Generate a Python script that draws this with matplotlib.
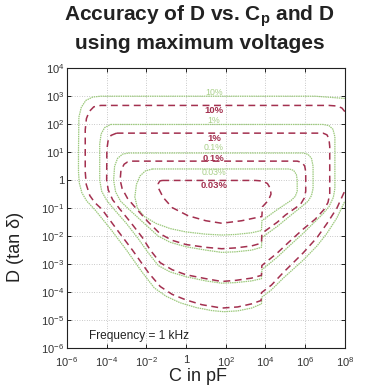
import numpy as np
import matplotlib
matplotlib.use("Agg")
import matplotlib.pyplot as plt
from matplotlib.ticker import FixedLocator, FuncFormatter, NullLocator

plt.rcParams['font.family'] = ['Liberation Sans', 'DejaVu Sans']
plt.rcParams['mathtext.fontset'] = 'custom'
plt.rcParams['mathtext.rm'] = 'Liberation Sans'
plt.rcParams['mathtext.bf'] = 'Liberation Sans:bold'

# contour traces, (log10 C [pF], log10 D)
g_10 = [(8.0, 2.92), (6.5, 3.0), (-4.3, 3.0), (-4.7, 2.97), (-5.05, 2.85), (-5.28, 2.6),
        (-5.4, 2.25), (-5.42, 1.0), (-5.42, 0.3), (-5.38, -0.1), (-5.25, -0.45), (-5.0, -0.75),
        (-4.6, -1.05), (-3.8, -1.75), (-3.0, -2.5), (-2.2, -3.3), (-1.6, -3.85), (-1.0, -4.15),
        (-0.3, -4.38), (0.5, -4.55), (1.3, -4.66), (1.9, -4.7), (2.6, -4.67), (3.3, -4.57),
        (3.8, -4.42), (3.82, -4.18), (4.3, -3.92), (4.9, -3.5), (5.9, -2.86), (6.6, -2.35),
        (7.1, -1.9), (7.6, -1.35), (8.0, -0.75)]
m_10 = [(8.0, 2.45), (7.85, 2.58), (7.6, 2.65), (7.2, 2.67), (-4.3, 2.67), (-4.65, 2.62),
        (-4.88, 2.45), (-5.02, 2.2), (-5.08, 1.8), (-5.08, 0.3), (-5.03, -0.15), (-4.85, -0.55),
        (-4.6, -0.8), (-4.24, -1.04), (-3.5, -1.75), (-2.7, -2.5), (-1.9, -3.3), (-1.3, -3.8),
        (-0.7, -4.08), (0.0, -4.28), (0.8, -4.45), (1.8, -4.57), (2.6, -4.53), (3.3, -4.42),
        (3.78, -4.3), (3.8, -4.02), (4.3, -3.75), (4.9, -3.3), (5.9, -2.6), (6.6, -2.05),
        (7.1, -1.55), (7.6, -1.0), (8.0, -0.38)]
g_1 = [(-3.8, 1.99), (6.9, 1.99), (7.2, 1.95), (7.4, 1.82), (7.5, 1.55), (7.5, -0.3),
       (7.42, -0.62), (7.2, -0.95), (6.9, -1.2), (5.9, -1.9), (5.2, -2.35), (4.6, -2.75),
       (3.82, -3.2), (3.8, -3.52), (3.3, -3.6), (2.5, -3.66), (1.8, -3.68), (1.0, -3.6),
       (0.0, -3.45), (-0.8, -3.28), (-1.4, -3.05), (-1.9, -2.6), (-2.4, -2.1), (-3.0, -1.55),
       (-3.63, -1.04), (-4.0, -0.72), (-4.25, -0.4), (-4.35, 0.0), (-4.35, 1.3), (-4.28, 1.65),
       (-4.1, 1.88), (-3.8, 1.99)]
m_1 = [(-3.5, 1.68), (6.9, 1.68), (7.1, 1.62), (7.2, 1.48), (7.24, 1.2), (7.24, -0.5),
       (7.15, -0.8), (6.95, -1.05), (6.5, -1.4), (5.9, -1.75), (5.2, -2.2), (4.6, -2.6),
       (3.82, -3.05), (3.8, -3.4), (3.3, -3.5), (2.5, -3.58), (1.8, -3.62), (1.0, -3.52),
       (0.0, -3.38), (-0.7, -3.2), (-1.3, -2.95), (-1.8, -2.5), (-2.2, -2.05), (-2.8, -1.5),
       (-3.33, -1.04), (-3.7, -0.7), (-3.92, -0.35), (-4.0, 0.0), (-3.99, 1.1), (-3.93, 1.4),
       (-3.78, 1.6), (-3.5, 1.68)]
g_01 = [(-2.9, 0.97), (5.9, 0.97), (6.15, 0.92), (6.32, 0.78), (6.4, 0.5), (6.4, -0.3),
        (6.32, -0.55), (6.15, -0.75), (5.9, -0.9), (5.2, -1.3), (4.6, -1.65), (3.82, -2.05),
        (3.8, -2.4), (3.3, -2.5), (2.5, -2.56), (1.8, -2.58), (1.0, -2.5), (0.0, -2.38),
        (-0.8, -2.22), (-1.4, -2.0), (-2.1, -1.55), (-2.88, -1.04), (-3.3, -0.75),
        (-3.55, -0.42), (-3.65, 0.0), (-3.6, 0.5), (-3.45, 0.78), (-3.2, 0.93), (-2.9, 0.97)]
m_01 = [(-2.7, 0.68), (5.6, 0.68), (5.85, 0.63), (5.98, 0.5), (6.03, 0.3), (6.03, -0.4),
        (5.95, -0.65), (5.78, -0.85), (5.5, -1.0), (5.0, -1.25), (4.6, -1.5), (3.82, -1.9),
        (3.8, -2.25), (3.3, -2.35), (2.5, -2.42), (1.8, -2.45), (1.0, -2.4), (0.0, -2.3),
        (-0.7, -2.15), (-1.3, -1.92), (-1.9, -1.5), (-2.48, -1.04), (-2.95, -0.65),
        (-3.22, -0.3), (-3.32, 0.0), (-3.28, 0.35), (-3.12, 0.57), (-2.95, 0.65), (-2.7, 0.68)]
g_003 = [(-1.7, 0.40), (5.2, 0.40), (5.42, 0.35), (5.56, 0.2), (5.6, 0.0), (5.6, -0.4),
         (5.5, -0.58), (5.3, -0.72), (4.6, -1.05), (3.82, -1.45), (3.8, -1.8), (3.3, -1.88),
         (2.5, -1.94), (1.8, -1.96), (1.0, -1.93), (0.0, -1.85), (-0.8, -1.73), (-1.5, -1.55),
         (-2.1, -1.3), (-2.45, -1.0), (-2.58, -0.6), (-2.5, -0.15), (-2.32, 0.15),
         (-2.05, 0.33), (-1.7, 0.40)]
m_003 = [(-1.2, -0.01), (3.5, -0.01), (3.85, -0.03), (4.1, -0.12), (4.25, -0.3), (4.28, -0.5),
         (4.15, -0.72), (3.85, -0.95), (3.82, -1.3), (3.6, -1.33), (2.8, -1.45), (1.8, -1.54),
         (1.0, -1.45), (0.1, -1.27), (-0.7, -0.98), (-1.15, -0.62), (-1.38, -0.3),
         (-1.4, -0.12), (-1.32, -0.03), (-1.2, -0.01)]

green_curves = [g_10, g_1, g_01, g_003]
maroon_curves = [m_10, m_1, m_01, m_003]

# contour labels: text, log10 C, log10 D
green_labels = [("10%", 1.4, 3.14), ("1%", 1.4, 2.14), ("0.1%", 1.4, 1.18), ("0.03%", 1.4, 0.29)]
maroon_labels = [("10%", 1.4, 2.5), ("1%", 1.4, 1.5), ("0.1%", 1.4, 0.79), ("0.03%", 1.4, -0.18)]

x_decades = [-6, -4, -2, 0, 2, 4, 6, 8]
y_decades = [-6, -5, -4, -3, -2, -1, 0, 1, 2, 3, 4]

GREEN = '#9cc97c'
MAROON = '#a3304f'


def pow_label(v, pos):
    e = int(round(np.log10(v)))
    if e == 0:
        return '1'
    return r'$\mathregular{10^{%d}}$' % e


fig = plt.figure(figsize=(3.68, 3.92), dpi=100)
ax = fig.add_axes([0.182, 0.112, 0.755, 0.714])

for c in green_curves:
    c = np.array(c)
    ax.plot(10.0 ** c[:, 0], 10.0 ** c[:, 1], color=GREEN, lw=0.9, linestyle=(0, (1.2, 0.6)))
for c in maroon_curves:
    c = np.array(c)
    ax.plot(10.0 ** c[:, 0], 10.0 ** c[:, 1], color=MAROON, lw=1.1, linestyle=(0, (4.5, 3)))

for txt, lx, ly in green_labels:
    ax.text(10.0 ** lx, 10.0 ** ly, txt, color='#a8cf88', fontsize=6.3, ha='center', va='center')
for txt, lx, ly in maroon_labels:
    ax.text(10.0 ** lx, 10.0 ** ly, txt, color=MAROON, fontsize=6.8, fontweight='bold',
            ha='center', va='center')

ax.set_xscale('log')
ax.set_yscale('log')
ax.set_xlim(1e-6, 1e8)
ax.set_ylim(1e-6, 1e4)
ax.xaxis.set_major_locator(FixedLocator([10.0 ** e for e in x_decades]))
ax.yaxis.set_major_locator(FixedLocator([10.0 ** e for e in y_decades]))
ax.xaxis.set_minor_locator(NullLocator())
ax.yaxis.set_minor_locator(NullLocator())
ax.xaxis.set_major_formatter(FuncFormatter(pow_label))
ax.yaxis.set_major_formatter(FuncFormatter(pow_label))
ax.tick_params(direction='in', length=3, width=0.6, top=True, right=True,
               labelsize=8, labelcolor='#333333', pad=2)
ax.tick_params(axis='x', pad=5)
ax.grid(True, linestyle=(0, (1, 2.5)), color='#999999', lw=0.5)
for s in ax.spines.values():
    s.set_linewidth(0.8)
    s.set_color('#222222')

ax.text(1.3e-5, 2.1e-6, 'Frequency = 1 kHz', fontsize=8.6, color='#222222', va='baseline')

ax.set_xlabel('C in pF', fontsize=13, color='#222222')
ax.xaxis.set_label_coords(0.47, -0.072)
ax.set_ylabel(r'D (tan δ)', fontsize=13, color='#222222')
ax.yaxis.set_label_coords(-0.155, 0.36)

fig.text(0.542, 0.948, r'Accuracy of D vs. C$_\mathbf{p}$ and D', fontsize=15,
         fontweight='bold', ha='center', va='baseline', color='#222222')
fig.text(0.542, 0.875, 'using maximum voltages', fontsize=15, fontweight='bold',
         ha='center', va='baseline', color='#222222')

fig.savefig('out.png', dpi=100)
